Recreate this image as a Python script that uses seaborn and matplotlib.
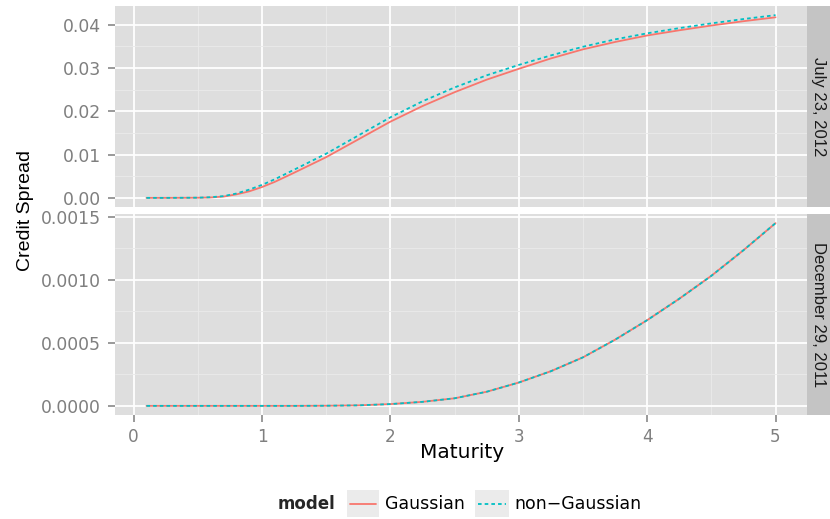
import numpy as np
import pandas as pd
import matplotlib
matplotlib.use("Agg")
import matplotlib.pyplot as plt
from matplotlib.lines import Line2D
from matplotlib.patches import Rectangle
import seaborn as sns

# ---- data ----
maturity = [0.1, 0.25, 0.5, 0.6, 0.7, 0.8, 0.9, 1.0, 1.1, 1.25, 1.5, 1.75, 2.0, 2.25, 2.5,
            2.75, 3.0, 3.25, 3.5, 3.75, 4.0, 4.25, 4.5, 4.75, 5.0]
jul_gauss = [0.0, 0.0, 0.00003, 0.0001, 0.0003, 0.0008, 0.0015, 0.0025, 0.0037, 0.0058,
             0.0094, 0.0135, 0.0176, 0.0212, 0.0244, 0.0273, 0.0298, 0.0322, 0.0343, 0.0360,
             0.0375, 0.0387, 0.0398, 0.0408, 0.0417]
jul_nongauss = [0.0, 0.0, 0.00004, 0.00015, 0.0004, 0.0010, 0.0019, 0.0030, 0.0043, 0.0065,
                0.0102, 0.0144, 0.0186, 0.0223, 0.0255, 0.0283, 0.0307, 0.0329, 0.0349, 0.0366,
                0.0380, 0.0392, 0.0403, 0.0413, 0.0422]
dec_gauss = [0.0, 0.0, 0.0, 0.0, 0.0, 0.0, 0.0, 0.0, 0.0, 0.0,
             0.000001, 0.000004, 0.000014, 0.000032, 0.000060, 0.000112, 0.000185, 0.000275,
             0.000385, 0.000525, 0.000680, 0.000850, 0.001032, 0.001235, 0.001450]
dec_nongauss = [0.0, 0.0, 0.0, 0.0, 0.0, 0.0, 0.0, 0.0, 0.0, 0.0,
                0.000001, 0.000004, 0.000014, 0.000032, 0.000060, 0.000112, 0.000185, 0.000275,
                0.000385, 0.000525, 0.000680, 0.000850, 0.001032, 0.001235, 0.001450]
models = ["Gaussian", "non\u2212Gaussian"]
panels = ["July 23, 2012", "December 29, 2011"]
x_ticks = [0, 1, 2, 3, 4, 5]
y_ticks_top = [0.00, 0.01, 0.02, 0.03, 0.04]
y_labels_top = ["0.00", "0.01", "0.02", "0.03", "0.04"]
y_ticks_bot = [0.0, 0.0005, 0.0010, 0.0015]
y_labels_bot = ["0.0000", "0.0005", "0.0010", "0.0015"]

def frame(g, ng):
    return pd.DataFrame({
        "Maturity": maturity * 2,
        "spread": list(g) + list(ng),
        "model": [models[0]] * len(maturity) + [models[1]] * len(maturity),
    })

df_top = frame(jul_gauss, jul_nongauss)
df_bot = frame(dec_gauss, dec_nongauss)

sns.set_style("white")
plt.rcParams["font.family"] = ["DejaVu Sans"]
NARROW = ["Liberation Sans", "DejaVu Sans"]

W, H = 830, 519
fig = plt.figure(figsize=(8.3, 5.19), dpi=100)

def fx(px):
    return px / W

def fy(py):
    return 1 - py / H

PL, PR = 115, 807
panel_box = [(6, 207), (214, 415)]
palette = {models[0]: "#F8766D", models[1]: "#00BFC4"}
dashes = {models[0]: "", models[1]: (2.0, 1.7)}
bg = "#DEDEDE"
tick_col = "#7F7F7F"

for i, (t, b) in enumerate(panel_box):
    ax = fig.add_axes([fx(PL), fy(b), fx(PR - PL), (b - t) / H])
    d = df_top if i == 0 else df_bot
    ax.set_facecolor(bg)
    sns.lineplot(data=d, x="Maturity", y="spread", hue="model", style="model",
                 palette=palette, dashes=dashes, ax=ax, legend=False,
                 linewidth=1.3, estimator=None, sort=True)
    xr = max(maturity) - min(maturity)
    ax.set_xlim(min(maturity) - 0.05 * xr, max(maturity) + 0.05 * xr)
    ymin, ymax = d["spread"].min(), d["spread"].max()
    yr = ymax - ymin
    ax.set_ylim(ymin - 0.05 * yr, ymax + 0.05 * yr)
    ax.set_xticks(x_ticks)
    ax.set_xticks([0.5, 1.5, 2.5, 3.5, 4.5], minor=True)
    if i == 0:
        ax.set_yticks(y_ticks_top)
        ax.set_yticklabels(y_labels_top)
        ax.set_yticks([0.005, 0.015, 0.025, 0.035], minor=True)
        ax.tick_params(axis="x", which="both", bottom=False, labelbottom=False)
    else:
        ax.set_yticks(y_ticks_bot)
        ax.set_yticklabels(y_labels_bot)
        ax.set_yticks([0.00025, 0.00075, 0.00125], minor=True)
        ax.set_xticklabels([str(v) for v in x_ticks])
        ax.tick_params(axis="x", which="major", bottom=True, length=4.8, width=1.1,
                       color=tick_col, labelcolor=tick_col, labelsize=12.2, pad=4.2)
        ax.tick_params(axis="x", which="minor", bottom=False)
    ax.tick_params(axis="y", which="major", left=True, length=5.4, width=1.1,
                   color=tick_col, labelcolor=tick_col, labelsize=12.4, pad=4.6)
    ax.tick_params(axis="y", which="minor", left=False)
    ax.grid(True, which="major", color="white", linewidth=1.3)
    ax.grid(True, which="minor", color="#EAEAEA", linewidth=0.6)
    ax.set_axisbelow(True)
    for s in ax.spines.values():
        s.set_visible(False)
    ax.set_xlabel("")
    ax.set_ylabel("")

    # strip
    sax = fig.add_axes([fx(PR), fy(b), fx(W - PR), (b - t) / H])
    sax.set_facecolor("#C4C4C4")
    sax.set_xticks([]); sax.set_yticks([])
    for s in sax.spines.values():
        s.set_visible(False)
    sax.text(0.5, 0.5, panels[i], rotation=-90, ha="center", va="center",
             fontsize=12, color="#1A1A1A", transform=sax.transAxes, family=NARROW)

# axis titles
fig.text(fx(462), fy(453), "Maturity", ha="center", va="center", fontsize=14.5, color="black")
fig.text(fx(25), fy(211), "Credit Spread", ha="center", va="center", rotation=90,
         fontsize=14, color="black", family=NARROW)

# legend
ly = fy(504)
fig.text(fx(278), ly, "model", ha="left", va="center", fontsize=12, fontweight="bold")
for (x0, x1, name, tx) in [(347, 379, models[0], 385), (475, 509, models[1], 514)]:
    fig.patches.append(Rectangle((fx(x0), fy(517)), fx(x1 - x0), (517 - 490) / H,
                                 transform=fig.transFigure, facecolor="#EBEBEB",
                                 edgecolor="none", zorder=1))
    ls = "-" if name == models[0] else (0, (2.0, 1.7))
    fig.lines.append(Line2D([fx(x0 + 3), fx(x1 - 3)], [ly, ly], transform=fig.transFigure,
                            color=palette[name], linewidth=1.3, linestyle=ls, zorder=2))
    fig.text(fx(tx), ly, name, ha="left", va="center", fontsize=12.5, color="black")

fig.savefig("out.png", dpi=100)
